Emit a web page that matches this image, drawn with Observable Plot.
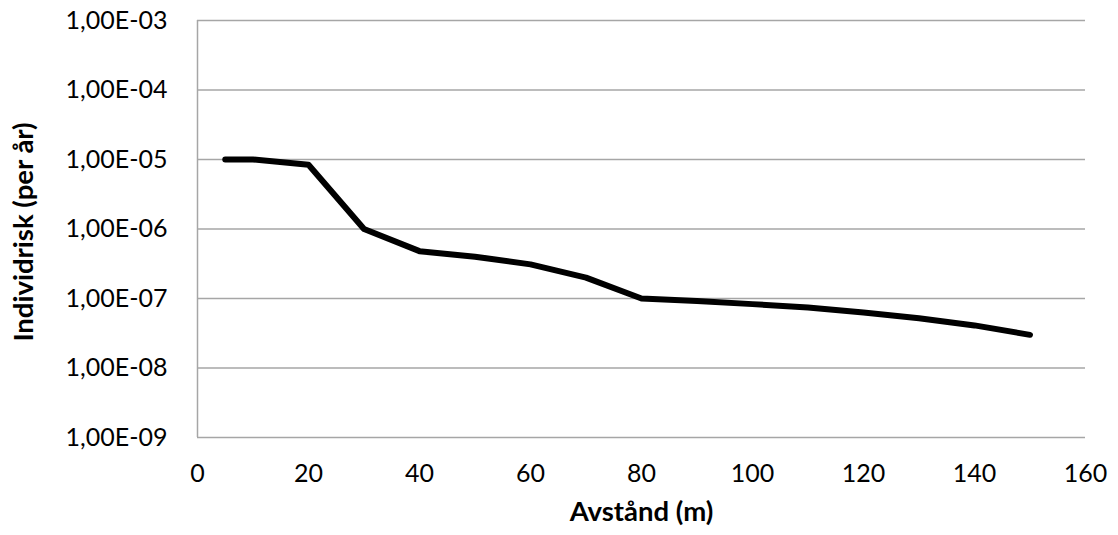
<!DOCTYPE html>
<html>
<head>
<meta charset="utf-8">
<script src="https://cdn.jsdelivr.net/npm/d3@7"></script>
<script src="https://cdn.jsdelivr.net/npm/@observablehq/plot@0.6"></script>
<style>
  html, body { margin: 0; padding: 0; background: #fff; }
</style>
</head>
<body>
<div id="chart"></div>
<script>
const distances = [5, 10, 20, 30, 40, 50, 60, 70, 80, 90, 100, 110, 120, 130, 140, 150];
const risks = [1e-5, 1e-5, 8.4e-6, 1e-6, 4.8e-7, 4e-7, 3.1e-7, 2e-7, 1e-7, 9.2e-8, 8.3e-8, 7.4e-8, 6.3e-8, 5.2e-8, 4.1e-8, 3e-8];
const yTicks = [1e-9, 1e-8, 1e-7, 1e-6, 1e-5, 1e-4, 1e-3];
const yTickLabels = ["1,00E-09", "1,00E-08", "1,00E-07", "1,00E-06", "1,00E-05", "1,00E-04", "1,00E-03"];
const xTicks = [0, 20, 40, 60, 80, 100, 120, 140, 160];
const xTitle = "Avstånd (m)";
const yTitle = "Individrisk (per år)";

const data = distances.map((d, i) => ({x: d, y: risks[i]}));
const font = "Lato, 'Open Sans', sans-serif";
const grid = "#a6a6a6";

const chart = Plot.plot({
  width: 1118,
  height: 535,
  marginLeft: 197,
  marginRight: 33,
  marginTop: 20,
  marginBottom: 98,
  style: {fontFamily: font, fontSize: "25px", color: "#000", background: "#fff"},
  x: {domain: [0, 160]},
  y: {type: "log", domain: [1e-9, 1e-3]},
  marks: [
    Plot.ruleY(yTicks.slice(1), {stroke: grid, strokeWidth: 1.5}),
    Plot.ruleY([1e-9], {stroke: grid, strokeWidth: 1.5}),
    Plot.ruleX([0], {stroke: grid, strokeWidth: 1.5}),
    Plot.axisY({
      ticks: yTicks,
      tickFormat: d => yTickLabels[yTicks.indexOf(d)],
      tickSize: 0,
      tickPadding: 30,
      fontSize: 25,
      label: null
    }),
    Plot.axisX({
      ticks: xTicks,
      tickFormat: d => String(d),
      tickSize: 0,
      tickPadding: 27,
      fontSize: 25,
      label: null
    }),
    Plot.line(data, {x: "x", y: "y", stroke: "#000", strokeWidth: 6, strokeLinecap: "round", strokeLinejoin: "round"}),
    Plot.text([xTitle], {frameAnchor: "bottom", dy: 83, fontWeight: "bold", fontSize: 27.5, fill: "#000"}),
    Plot.text([yTitle], {frameAnchor: "left", textAnchor: "middle", dx: -173, dy: 3, rotate: -90, fontWeight: "bold", fontSize: 27.5, fill: "#000"})
  ]
});
document.getElementById("chart").appendChild(chart);
</script>
</body>
</html>
